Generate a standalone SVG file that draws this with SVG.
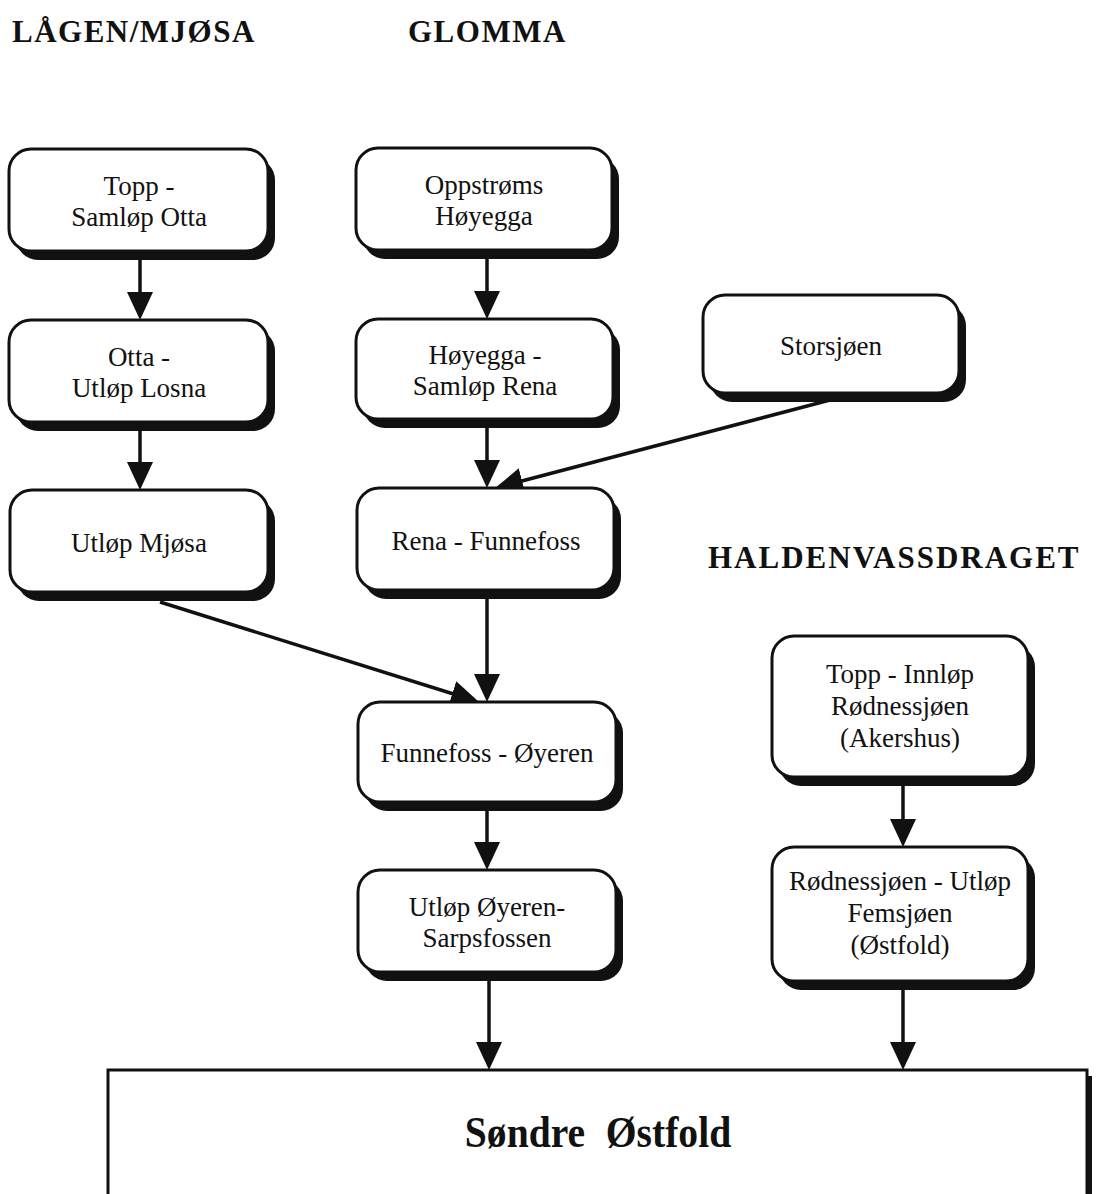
<svg xmlns="http://www.w3.org/2000/svg" width="1096" height="1194" viewBox="0 0 1096 1194">
<style>
.hdr{font-family:"Liberation Serif","Times New Roman",serif;font-weight:bold;font-size:31px;letter-spacing:1.5px;fill:#111}
.shd{fill:#111}
.box{fill:#fff;stroke:#111;stroke-width:3}
.lbl{font-family:"Liberation Serif","Times New Roman",serif;font-size:27px;fill:#111;text-anchor:middle}
.con{stroke:#111;stroke-width:3.5;fill:none;marker-end:url(#ah)}
.big{font-family:"Liberation Serif","Times New Roman",serif;font-weight:bold;font-size:44px;fill:#111;text-anchor:middle;word-spacing:12px}
</style>
<defs>
<marker id="ah" markerUnits="userSpaceOnUse" markerWidth="28" markerHeight="26" refX="18" refY="13" orient="auto">
<path d="M0,0 L28,13 L0,26 Z" fill="#111"/>
</marker>
</defs>
<rect width="1096" height="1194" fill="#fff"/>

<g id="headers">
<text class="hdr" x="12" y="42">LÅGEN/MJØSA</text>
<text class="hdr" x="408" y="42">GLOMMA</text>
<text class="hdr" x="708" y="568" style="letter-spacing:2px">HALDENVASSDRAGET</text>
</g>

<g id="connectors">
<line class="con" x1="140" y1="258" x2="140" y2="310"/>
<line class="con" x1="487" y1="257" x2="487" y2="309"/>
<line class="con" x1="140" y1="430" x2="140" y2="480"/>
<line class="con" x1="487" y1="427" x2="487" y2="478"/>
<line class="con" x1="830" y1="400" x2="504.7" y2="485.5"/>
<line class="con" x1="487" y1="598" x2="487" y2="692"/>
<line class="con" x1="160" y1="602" x2="469.5" y2="699"/>
<line class="con" x1="487" y1="810" x2="487" y2="860"/>
<line class="con" x1="489" y1="980" x2="489" y2="1060"/>
<line class="con" x1="903" y1="786" x2="903" y2="837"/>
<line class="con" x1="903" y1="990" x2="903" y2="1060"/>
</g>

<g id="n-topp-samlop-otta">
<rect class="shd" x="16" y="158" width="259" height="102" rx="22"/>
<rect class="box" x="9" y="149" width="259" height="102" rx="22"/>
<text class="lbl" x="139" y="195">Topp -</text>
<text class="lbl" x="139" y="226">Samløp Otta</text>
</g>

<g id="n-oppstroms-hoyegga">
<rect class="shd" x="363" y="157" width="256" height="102" rx="22"/>
<rect class="box" x="356" y="148" width="256" height="102" rx="22"/>
<text class="lbl" x="484" y="194">Oppstrøms</text>
<text class="lbl" x="484" y="225">Høyegga</text>
</g>

<g id="n-otta-utlop-losna">
<rect class="shd" x="16" y="329" width="259" height="102" rx="22"/>
<rect class="box" x="9" y="320" width="259" height="102" rx="22"/>
<text class="lbl" x="139" y="366">Otta -</text>
<text class="lbl" x="139" y="397">Utløp Losna</text>
</g>

<g id="n-hoyegga-samlop-rena">
<rect class="shd" x="363" y="328" width="257" height="100" rx="22"/>
<rect class="box" x="356" y="319" width="257" height="100" rx="22"/>
<text class="lbl" x="485" y="364">Høyegga -</text>
<text class="lbl" x="485" y="395">Samløp Rena</text>
</g>

<g id="n-storsjoen">
<rect class="shd" x="710" y="304" width="256" height="98" rx="22"/>
<rect class="box" x="703" y="295" width="256" height="98" rx="22"/>
<text class="lbl" x="831" y="355">Storsjøen</text>
</g>

<g id="n-utlop-mjosa">
<rect class="shd" x="17" y="499" width="258" height="102" rx="22"/>
<rect class="box" x="10" y="490" width="258" height="102" rx="22"/>
<text class="lbl" x="139" y="552">Utløp Mjøsa</text>
</g>

<g id="n-rena-funnefoss">
<rect class="shd" x="364" y="497" width="257" height="102" rx="22"/>
<rect class="box" x="357" y="488" width="257" height="102" rx="22"/>
<text class="lbl" x="486" y="550">Rena - Funnefoss</text>
</g>

<g id="n-funnefoss-oyeren">
<rect class="shd" x="365" y="711" width="258" height="100" rx="22"/>
<rect class="box" x="358" y="702" width="258" height="100" rx="22"/>
<text class="lbl" x="487" y="762">Funnefoss - Øyeren</text>
</g>

<g id="n-utlop-oyeren-sarpsfossen">
<rect class="shd" x="365" y="879" width="258" height="102" rx="22"/>
<rect class="box" x="358" y="870" width="258" height="102" rx="22"/>
<text class="lbl" x="487" y="916">Utløp Øyeren-</text>
<text class="lbl" x="487" y="947">Sarpsfossen</text>
</g>

<g id="n-topp-innlop-rodnessjoen">
<rect class="shd" x="779" y="645" width="256" height="141" rx="22"/>
<rect class="box" x="772" y="636" width="256" height="141" rx="22"/>
<text class="lbl" x="900" y="683">Topp - Innløp</text>
<text class="lbl" x="900" y="715">Rødnessjøen</text>
<text class="lbl" x="900" y="747">(Akershus)</text>
</g>

<g id="n-rodnessjoen-utlop-femsjoen">
<rect class="shd" x="779" y="856" width="256" height="134" rx="22"/>
<rect class="box" x="772" y="847" width="256" height="134" rx="22"/>
<text class="lbl" x="900" y="890">Rødnessjøen - Utløp</text>
<text class="lbl" x="900" y="922">Femsjøen</text>
<text class="lbl" x="900" y="954">(Østfold)</text>
</g>

<g id="n-sondre-ostfold">
<rect class="shd" x="1086" y="1076" width="6" height="130"/>
<rect x="108" y="1070" width="979" height="140" fill="#fff" stroke="#111" stroke-width="3"/>
<text class="big" transform="translate(598,1147) scale(0.9,1)" x="0" y="0">Søndre Østfold</text>
</g>
</svg>
